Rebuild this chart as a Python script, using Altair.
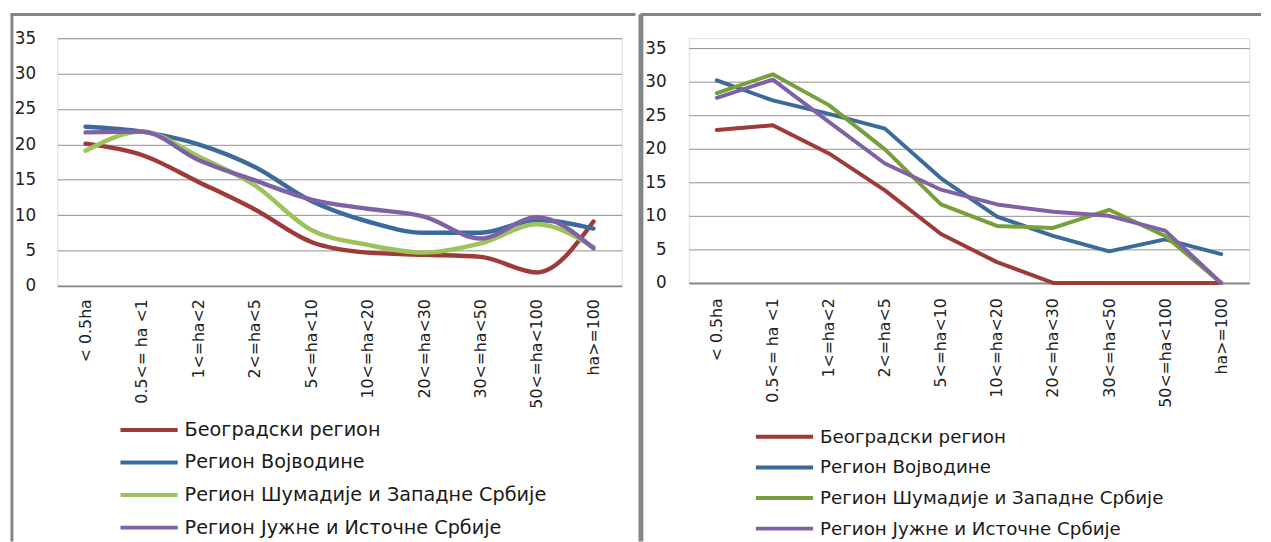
import altair as alt
import pandas as pd

categories = ["< 0.5ha", "0.5<= ha <1", "1<=ha<2", "2<=ha<5", "5<=ha<10",
              "10<=ha<20", "20<=ha<30", "30<=ha<50", "50<=ha<100", "ha>=100"]
series = ["Београдски регион", "Регион Војводине",
          "Регион Шумадије и Западне Србије", "Регион Јужне и  Источне Србије"]

# left chart
beograd_1 = [20.1, 18.5, 14.7, 10.8, 6.2, 4.7, 4.4, 4.1, 1.9, 9.1]
vojvodina_1 = [22.5, 21.8, 20.0, 16.8, 12.0, 9.1, 7.5, 7.5, 9.3, 8.1]
sumadija_1 = [19.1, 21.8, 18.3, 14.2, 7.9, 5.8, 4.7, 6.0, 8.7, 5.5]
juzna_1 = [21.7, 21.8, 17.8, 14.9, 12.2, 10.9, 9.8, 6.7, 9.7, 5.3]

# right chart
beograd_2 = [22.8, 23.5, 19.3, 13.8, 7.3, 3.1, 0, 0, 0, 0]
vojvodina_2 = [30.2, 27.2, 25.2, 23.0, 15.6, 9.9, 7.0, 4.7, 6.5, 4.3]
sumadija_2 = [28.3, 31.1, 26.5, 19.9, 11.7, 8.5, 8.2, 10.9, 7.0, 0]
juzna_2 = [27.6, 30.3, 24.0, 17.8, 13.9, 11.7, 10.6, 10.0, 7.8, 0]

y_ticks = [0, 5, 10, 15, 20, 25, 30, 35]

colors_1 = ["#9E3A38", "#3B6A9C", "#9DC35B", "#7F62A6"]
colors_2 = ["#9E3A38", "#3B6A9C", "#77A03B", "#7F62A6"]

FRAME = "#858585"
TOP = -24


def long_df(lists):
    rows = []
    for s, vals in zip(series, lists):
        for c, v in zip(categories, vals):
            rows.append({"cat": c, "series": s, "value": v})
    return pd.DataFrame(rows)


def panel(df, colors, w, h, ymax, interp, lw, frame_left, frame_w, frame_right,
          frame_bottom, left_stroke, leg_x, leg_y, leg_font, leg_row, ypad, xpad):
    line = alt.Chart(df).mark_line(strokeWidth=lw, interpolate=interp, strokeCap="round",
                                   strokeJoin="round").encode(
        x=alt.X("cat:N", sort=categories,
                scale=alt.Scale(type="point", padding=0.5),
                axis=alt.Axis(title=None, labelAngle=-90, labelPadding=xpad,
                              labelFontSize=16, labelFont="DejaVu Sans",
                              labelColor="#222", ticks=False, domainColor="#8a8a8a",
                              domainWidth=2, grid=False)),
        y=alt.Y("value:Q", scale=alt.Scale(domain=[0, ymax], nice=False),
                axis=alt.Axis(title=None, values=y_ticks,
                              grid=True, gridColor="#8f8f8f", gridWidth=1,
                              domain=False, ticks=False, labelPadding=ypad,
                              labelFontSize=17, labelFont="DejaVu Sans",
                              labelColor="#222")),
        color=alt.Color("series:N", sort=series,
                        scale=alt.Scale(domain=series, range=colors),
                        legend=alt.Legend(orient="none", legendX=leg_x, legendY=leg_y,
                                          title=None, symbolType="stroke",
                                          symbolSize=3364, symbolStrokeWidth=4,
                                          labelFontSize=leg_font, labelFont="DejaVu Sans",
                                          labelColor="#1a1a1a", labelLimit=700,
                                          labelOffset=5, rowPadding=leg_row, padding=0,
                                          clipHeight=20)),
        order=alt.Order("series_order:Q"),
    ).transform_calculate(
        series_order="indexof(" + str(series) + ", datum.series)"
    ).properties(width=w, height=h)

    one = alt.Data(values=[{"k": 1}])
    vert = alt.Chart(one).mark_rule(color=FRAME, strokeWidth=left_stroke).encode(
        x=alt.value(frame_left), y=alt.value(TOP), y2=alt.value(frame_bottom))
    top = alt.Chart(one).mark_rule(color=FRAME, strokeWidth=3).encode(
        x=alt.value(frame_w), x2=alt.value(frame_right), y=alt.value(TOP))
    return alt.layer(line, vert, top)


left = panel(long_df([beograd_1, vojvodina_1, sumadija_1, juzna_1]), colors_1,
             572, 251, 35, "monotone", 4.5,
             frame_left=-46, frame_w=-47.5, frame_right=586,
             frame_bottom=510, left_stroke=3,
             leg_x=62, leg_y=387, leg_font=19.5, leg_row=13, ypad=22, xpad=13)

right = panel(long_df([beograd_2, vojvodina_2, sumadija_2, juzna_2]), colors_2,
              568, 248, 36.47, "linear", 4,
              frame_left=-48.5, frame_w=-49, frame_right=580,
              frame_bottom=510, left_stroke=5,
              leg_x=66, leg_y=394, leg_font=18.5, leg_row=11, ypad=23, xpad=15)

chart = alt.hconcat(left, right, spacing=0).resolve_scale(
    color="independent", x="independent", y="independent"
).properties(padding=0).configure_view(stroke=None).configure(background="white")

chart.save("out.html", embed_options={"renderer": "svg", "actions": False})
